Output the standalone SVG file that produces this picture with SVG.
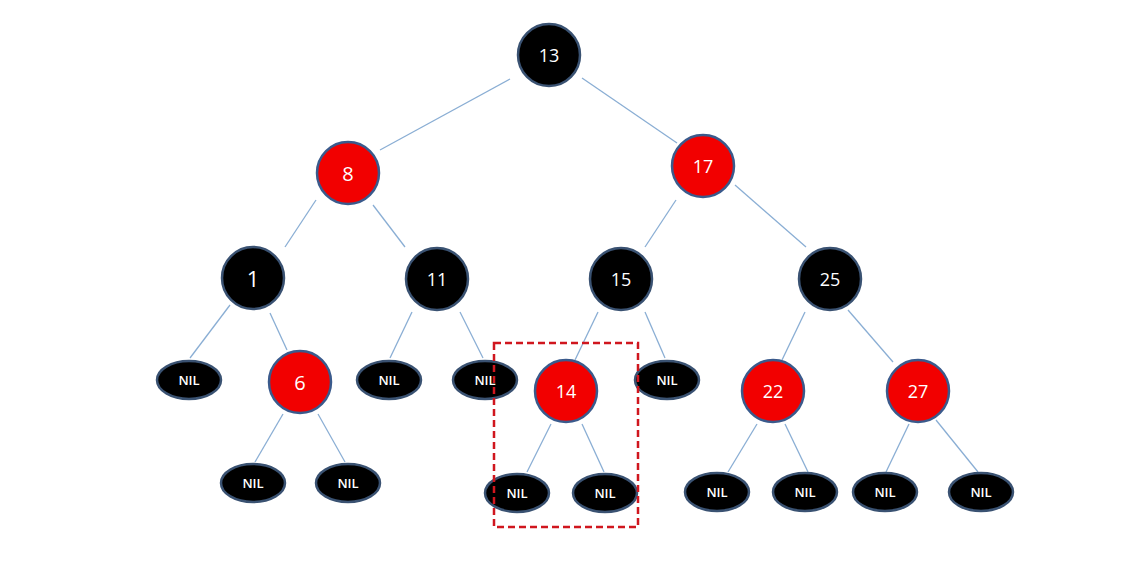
<svg xmlns="http://www.w3.org/2000/svg" width="1141" height="561" viewBox="0 0 1141 561">
<style>
.b{fill:#000;stroke:#3a5272;stroke-width:2.5}
.r{fill:#f20000;stroke:#3a5a8c;stroke-width:2.5}
.n{fill:#000;stroke:#3a5272;stroke-width:2.5}
.t{fill:#ffffff;font-family:"Open Sans","Liberation Sans",sans-serif;font-size:18px;text-anchor:middle;dominant-baseline:central}
.nt{fill:#ffffff;font-family:"Open Sans","Liberation Sans",sans-serif;font-size:13px;font-weight:600;text-anchor:middle;dominant-baseline:central}
#edges line{stroke:#8aaed4;stroke-width:1.3}
</style>
<rect width="1141" height="561" fill="#fff"/>
<g id="edges">
<line x1="510" y1="79" x2="380" y2="150"/>
<line x1="582" y1="78" x2="677" y2="143"/>
<line x1="316" y1="200" x2="285" y2="247"/>
<line x1="373" y1="205" x2="405" y2="247"/>
<line x1="676" y1="200" x2="645" y2="247"/>
<line x1="735" y1="185" x2="806" y2="247"/>
<line x1="230" y1="305" x2="190" y2="358"/>
<line x1="270" y1="313" x2="287" y2="350"/>
<line x1="412" y1="312" x2="390" y2="358"/>
<line x1="460" y1="312" x2="483" y2="358"/>
<line x1="598" y1="312" x2="575" y2="360"/>
<line x1="645" y1="312" x2="665" y2="358"/>
<line x1="805" y1="312" x2="782" y2="360"/>
<line x1="848" y1="310" x2="893" y2="362"/>
<line x1="283" y1="414" x2="255" y2="462"/>
<line x1="318" y1="414" x2="345" y2="462"/>
<line x1="551" y1="424" x2="527" y2="472"/>
<line x1="582" y1="424" x2="604" y2="472"/>
<line x1="757" y1="424" x2="728" y2="472"/>
<line x1="785" y1="424" x2="808" y2="472"/>
<line x1="909" y1="424" x2="886" y2="472"/>
<line x1="936" y1="420" x2="978" y2="472"/>
</g>
<g id="n13"><circle class="b" cx="549" cy="55" r="31"/><text class="t" x="549" y="55">13</text></g>
<g id="n8"><circle class="r" cx="348" cy="173" r="31"/><text class="t" x="348" y="173" style="font-size:20px">8</text></g>
<g id="n17"><circle class="r" cx="703" cy="166" r="31"/><text class="t" x="703" y="166">17</text></g>
<g id="n1"><circle class="b" cx="253" cy="278" r="31"/><text class="t" x="253" y="278" style="font-size:22px">1</text></g>
<g id="n11"><circle class="b" cx="437" cy="279" r="31"/><text class="t" x="437" y="279">11</text></g>
<g id="n15"><circle class="b" cx="621" cy="279" r="31"/><text class="t" x="621" y="279">15</text></g>
<g id="n25"><circle class="b" cx="830" cy="279" r="31"/><text class="t" x="830" y="279">25</text></g>
<g id="n6"><circle class="r" cx="300" cy="382" r="31"/><text class="t" x="300" y="382" style="font-size:20px">6</text></g>
<g id="n14"><circle class="r" cx="566" cy="391" r="31"/><text class="t" x="566" y="391">14</text></g>
<g id="n22"><circle class="r" cx="773" cy="391" r="31"/><text class="t" x="773" y="391">22</text></g>
<g id="n27"><circle class="r" cx="918" cy="391" r="31"/><text class="t" x="918" y="391">27</text></g>
<g id="nil1"><ellipse class="n" cx="189" cy="380" rx="32" ry="19"/><text class="nt" x="189" y="380">NIL</text></g>
<g id="nil2"><ellipse class="n" cx="389" cy="380" rx="32" ry="19"/><text class="nt" x="389" y="380">NIL</text></g>
<g id="nil3"><ellipse class="n" cx="485" cy="380" rx="32" ry="19"/><text class="nt" x="485" y="380">NIL</text></g>
<g id="nil4"><ellipse class="n" cx="667" cy="380" rx="32" ry="19"/><text class="nt" x="667" y="380">NIL</text></g>
<g id="nil5"><ellipse class="n" cx="253" cy="483" rx="32" ry="19"/><text class="nt" x="253" y="483">NIL</text></g>
<g id="nil6"><ellipse class="n" cx="348" cy="483" rx="32" ry="19"/><text class="nt" x="348" y="483">NIL</text></g>
<g id="nil7"><ellipse class="n" cx="517" cy="493" rx="32" ry="19"/><text class="nt" x="517" y="493">NIL</text></g>
<g id="nil8"><ellipse class="n" cx="605" cy="493" rx="32" ry="19"/><text class="nt" x="605" y="493">NIL</text></g>
<g id="nil9"><ellipse class="n" cx="717" cy="492" rx="32" ry="19"/><text class="nt" x="717" y="492">NIL</text></g>
<g id="nil10"><ellipse class="n" cx="805" cy="492" rx="32" ry="19"/><text class="nt" x="805" y="492">NIL</text></g>
<g id="nil11"><ellipse class="n" cx="885" cy="492" rx="32" ry="19"/><text class="nt" x="885" y="492">NIL</text></g>
<g id="nil12"><ellipse class="n" cx="981" cy="492" rx="32" ry="19"/><text class="nt" x="981" y="492">NIL</text></g>
<g id="highlight"><rect x="494" y="343" width="144" height="184" fill="none" stroke="#d0161e" stroke-width="2.5" stroke-dasharray="7,4"/></g>
</svg>
